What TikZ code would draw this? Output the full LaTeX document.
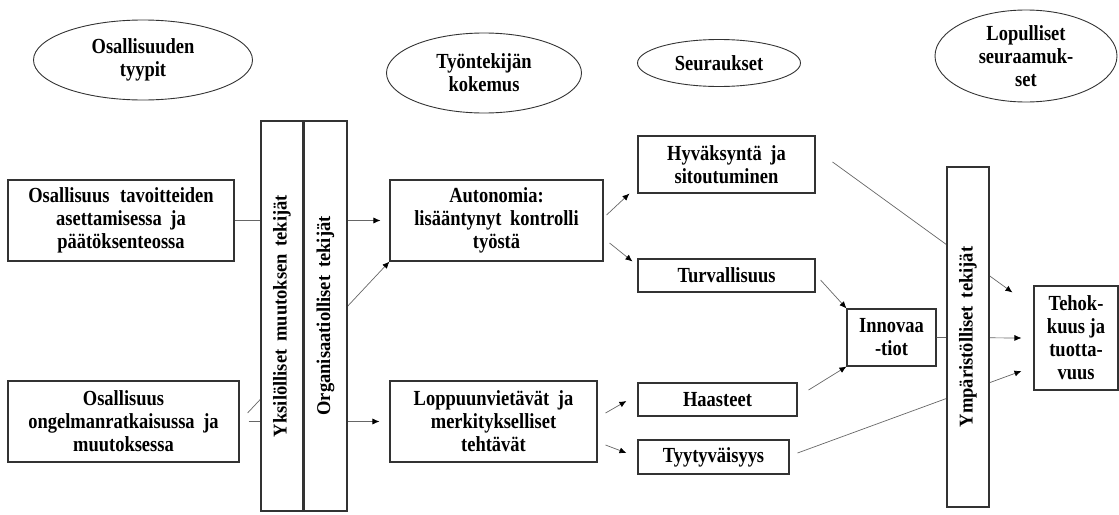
\documentclass[tikz,border=0pt]{standalone}
\usepackage{fontspec}
\setmainfont{Liberation Serif}[FakeStretch=0.86]
\newfontfamily\barfont{Liberation Serif}[FakeStretch=0.95]
\usetikzlibrary{shapes.geometric,arrows.meta,calc}
\begin{document}
\begin{tikzpicture}[x=1pt,y=-1pt,
  every node/.style={font=\bfseries\fontsize{21.5}{23}\selectfont, align=center, inner sep=0pt},
  box/.style={draw=black!80, line width=1.1pt, fill=white, rectangle},
  bar/.style={box, rotate=90, font=\barfont\bfseries\fontsize{19.5}{23}\selectfont},
  oval/.style={draw=black!80, line width=0.9pt, ellipse},
  conn/.style={draw=black!60, line width=0.7pt},
  arr/.style={conn, -{Latex[length=7pt,width=6pt,color=black]}}]
\useasboundingbox (0,0) rectangle (1119,514);

% header ellipses
\node[oval, minimum width=219pt, minimum height=80pt] (e1) at (143,60) {Osallisuuden\\tyypit};
\node[oval, minimum width=195pt, minimum height=80pt] (e2) at (484,73) {Työntekijän\\kokemus};
\node[oval, minimum width=163pt, minimum height=47pt] (e3) at (719,63) {Seuraukset};
\node[oval, minimum width=182pt, minimum height=92pt] (e4) at (1026,56) {Lopulliset\\seuraamuk-\\set};

% boxes
\node[box, minimum width=226pt, minimum height=81pt] (b1) at (121,220.5) {Osallisuus\hspace{0.5em}tavoitteiden\\asettamisessa\hspace{0.4em}ja\\päätöksenteossa};
\node[box, minimum width=231pt, minimum height=81pt] (b2) at (123.5,421.5) {Osallisuus\\ongelmanratkaisussa\hspace{0.4em}ja\\muutoksessa};
\node[box, minimum width=213pt, minimum height=81pt] (auto) at (496.5,220.5) {Autonomia:\\lisääntynyt\hspace{0.4em}kontrolli\\työstä};
\node[box, minimum width=207pt, minimum height=81pt] (lopp) at (493.5,421.5) {Loppuunvietävät\hspace{0.4em}ja\\merkitykselliset\\tehtävät};
\node[box, minimum width=177pt, minimum height=57pt] (hyv) at (726.5,164.5) {Hyväksyntä\hspace{0.4em}ja\\sitoutuminen};
\node[box, minimum width=177pt, minimum height=33pt] (turv) at (726.5,275.5) {Turvallisuus};
\node[box, minimum width=159pt, minimum height=33pt] (haas) at (717.5,399.5) {Haasteet};
\node[box, minimum width=151pt, minimum height=34pt] (tyyt) at (713.5,457) {Tyytyväisyys};
\node[box, minimum width=89pt, minimum height=57pt] (inno) at (891.5,337.5) {Innovaa\\-tiot};
\node[box, minimum width=84pt, minimum height=104pt] (teho) at (1076,338) {Tehok-\\kuus ja\\tuotta-\\vuus};

% connectors behind left bars
\draw[arr] (b1.east) -- ([shift={(-9,0)}]auto.west);
\draw[arr] ([shift={(9,0)}]b2.east) -- ([shift={(-10,0)}]lopp.west);
\draw[arr] ([shift={(8,-8.5)}]b2.east) -- (auto.south west);

% left bars
\node[bar, minimum width=390pt, minimum height=42pt] (bar1) at (282,316) {Yksilölliset\hspace{0.4em}muutoksen\hspace{0.4em}tekijät};
\node[bar, minimum width=390pt, minimum height=43pt] (bar2) at (325.5,316) {Organisaatiolliset\hspace{0.4em}tekijät};

% middle connectors
\draw[arr] ([shift={(3,-5.5)}]auto.east) -- ([shift={(-8,0)}]hyv.south west);
\draw[arr] ([shift={(6,22.5)}]auto.east) -- ([shift={(-5,3)}]turv.north west);
\draw[arr] ([shift={(8,-8.5)}]lopp.east) -- ([shift={(-11,1.5)}]haas.west);
\draw[arr] ([shift={(8,23.5)}]lopp.east) -- ([shift={(-11,-4)}]tyyt.west);
\draw[arr] ([shift={(5,4.5)}]turv.east) -- (inno.north west);
\draw[arr] ([shift={(11,-9.5)}]haas.east) -- (inno.south west);

% right connectors behind right bar
\draw[arr] ([shift={(17,-2.5)}]hyv.east) -- ([shift={(-21,7)}]teho.north west);
\draw[arr] (inno.east) -- ([shift={(-12,0)}]teho.west);
\draw[arr] ([shift={(8,-4)}]tyyt.east) -- ([shift={(-12,33)}]teho.west);

% right bar
\node[bar, minimum width=340pt, minimum height=42pt] (ymp) at (968,337) {Ympäristölliset\hspace{0.4em}tekijät};
\end{tikzpicture}
\end{document}
